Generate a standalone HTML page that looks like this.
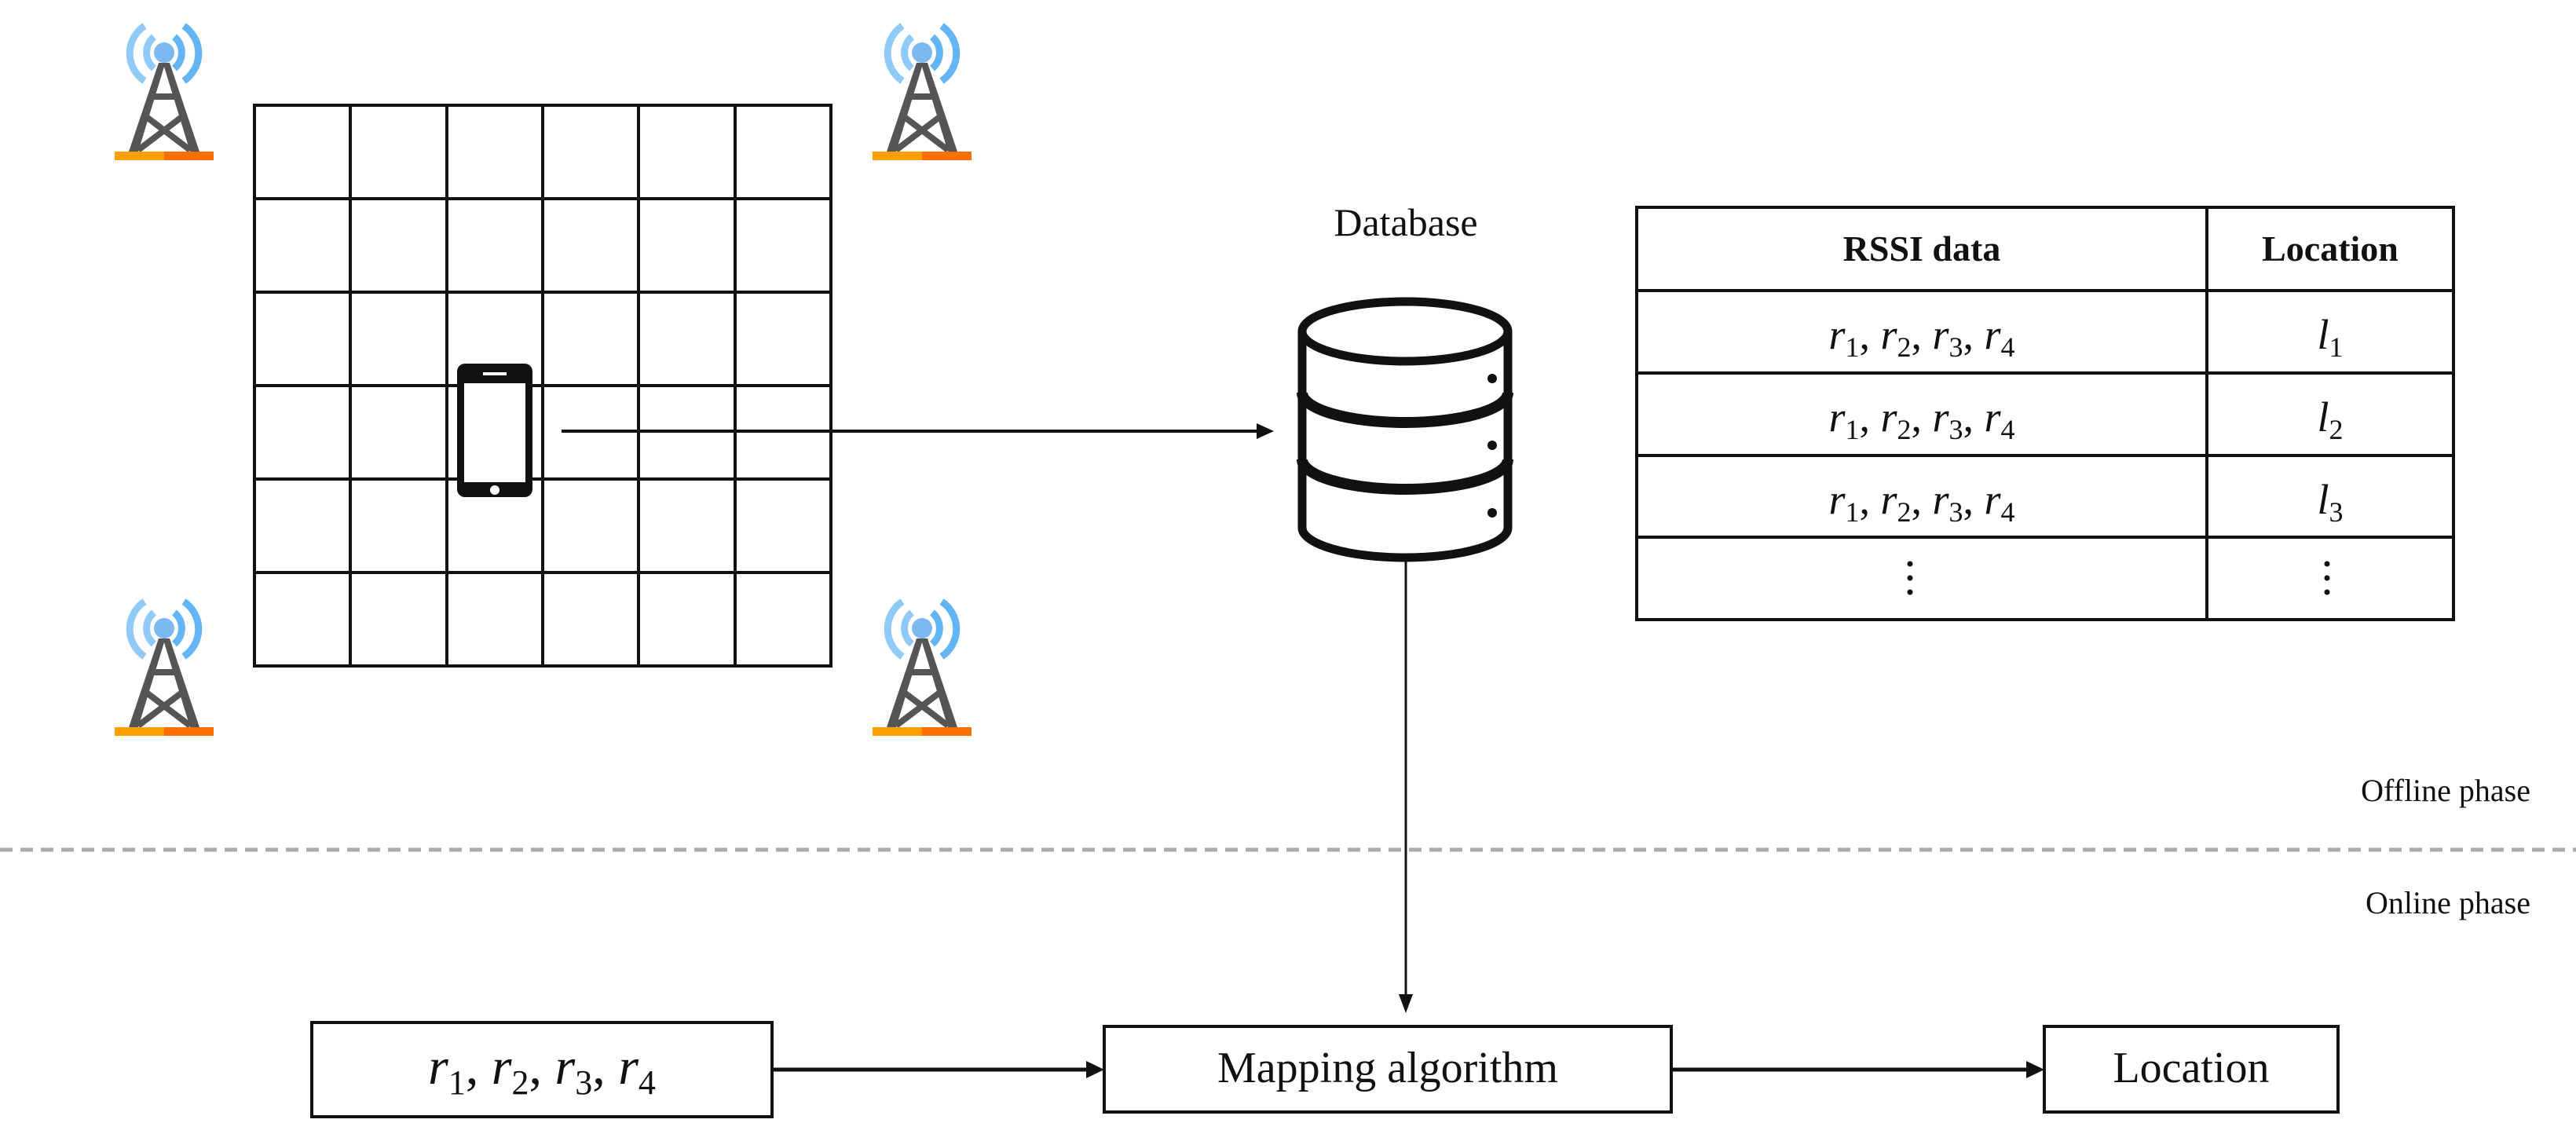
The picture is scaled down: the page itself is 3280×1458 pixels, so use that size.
<!DOCTYPE html>
<html><head><meta charset="utf-8"><style>
html,body{margin:0;padding:0;background:#fff;}
svg{display:block;}
text{font-family:"Liberation Serif",serif;fill:#111;}
.m{font-style:italic;}
</style></head><body>
<svg width="3280" height="1458" viewBox="0 0 3280 1458" xmlns="http://www.w3.org/2000/svg">
<defs>
<g id="tower">
  <path d="M38,8 A42,42 0 0 0 38,78" fill="none" stroke="#90caf9" stroke-width="9"/>
  <path d="M50,22 A26,26 0 0 0 50,62" fill="none" stroke="#90caf9" stroke-width="9"/>
  <path d="M88,8 A42,42 0 0 1 88,78" fill="none" stroke="#64b5f6" stroke-width="9"/>
  <path d="M76,22 A26,26 0 0 1 76,62" fill="none" stroke="#64b5f6" stroke-width="9"/>
  <circle cx="63" cy="42" r="13" fill="#7cb9f0"/>
  <path d="M56,55 L70,55 L108,168 L96,168 L63,60 L30,168 L18,168 Z" fill="#555"/>
  <path d="M46,98 L80,98 M38,122 L96,166 M88,122 L30,166" stroke="#555" stroke-width="8" fill="none"/>
  <rect x="0" y="168" width="63" height="11" fill="#ffa000"/>
  <rect x="63" y="168" width="63" height="11" fill="#ff6f00"/>
</g>
</defs>

<use href="#tower" x="146" y="25"/>
<use href="#tower" x="1111" y="25"/>
<use href="#tower" x="146" y="758"/>
<use href="#tower" x="1111" y="758"/>

<g stroke="#111" stroke-width="4" fill="none">
  <rect x="324" y="134" width="734" height="714"/>
  <path d="M446,134V848 M569,134V848 M691,134V848 M813,134V848 M936,134V848"/>
  <path d="M324,253H1058 M324,372H1058 M324,491H1058 M324,610H1058 M324,729H1058"/>
</g>
<rect x="582" y="463" width="96" height="170" rx="10" fill="#111"/>
<rect x="591" y="488" width="78" height="126" fill="#fff"/>
<rect x="615" y="474" width="30" height="4" fill="#fff"/>
<circle cx="630" cy="624" r="6" fill="#fff"/>

<line x1="715" y1="549" x2="1605" y2="549" stroke="#111" stroke-width="4"/>
<polygon points="1622,549 1600,539 1600,559" fill="#111"/>

<text x="1790" y="300" font-size="50" text-anchor="middle">Database</text>
<g stroke="#111" stroke-width="11" fill="none">
  <ellipse cx="1789" cy="422" rx="131" ry="38"/>
  <path d="M1658,422 V672 A131,38 0 0 0 1920,672 V422"/>
  <path d="M1658,500 A131,38 0 0 0 1920,500" stroke-width="14"/>
  <path d="M1658,585 A131,38 0 0 0 1920,585" stroke-width="14"/>
</g>
<circle cx="1900" cy="482" r="6" fill="#111"/>
<circle cx="1900" cy="567" r="6" fill="#111"/>
<circle cx="1900" cy="653" r="6" fill="#111"/>

<line x1="1790" y1="712" x2="1790" y2="1270" stroke="#111" stroke-width="3"/>
<polygon points="1790,1290 1781,1266 1799,1266" fill="#111"/>

<g stroke="#111" stroke-width="4" fill="none">
  <rect x="2084" y="264" width="1040" height="525"/>
  <path d="M2810,264V789 M2084,370H3124 M2084,475H3124 M2084,580H3124 M2084,684H3124"/>
</g>
<g font-size="46" font-weight="bold" text-anchor="middle">
  <text x="2447" y="332">RSSI data</text>
  <text x="2967" y="332">Location</text>
</g>
<g font-size="54" text-anchor="middle">
  <text x="2447" y="444"><tspan class="m">r</tspan><tspan font-size="36" dy="10">1</tspan><tspan dy="-10">, </tspan><tspan class="m">r</tspan><tspan font-size="36" dy="10">2</tspan><tspan dy="-10">, </tspan><tspan class="m">r</tspan><tspan font-size="36" dy="10">3</tspan><tspan dy="-10">, </tspan><tspan class="m">r</tspan><tspan font-size="36" dy="10">4</tspan></text>
  <text x="2447" y="549"><tspan class="m">r</tspan><tspan font-size="36" dy="10">1</tspan><tspan dy="-10">, </tspan><tspan class="m">r</tspan><tspan font-size="36" dy="10">2</tspan><tspan dy="-10">, </tspan><tspan class="m">r</tspan><tspan font-size="36" dy="10">3</tspan><tspan dy="-10">, </tspan><tspan class="m">r</tspan><tspan font-size="36" dy="10">4</tspan></text>
  <text x="2447" y="654"><tspan class="m">r</tspan><tspan font-size="36" dy="10">1</tspan><tspan dy="-10">, </tspan><tspan class="m">r</tspan><tspan font-size="36" dy="10">2</tspan><tspan dy="-10">, </tspan><tspan class="m">r</tspan><tspan font-size="36" dy="10">3</tspan><tspan dy="-10">, </tspan><tspan class="m">r</tspan><tspan font-size="36" dy="10">4</tspan></text>
  <text x="2967" y="444"><tspan class="m">l</tspan><tspan font-size="36" dy="10">1</tspan></text>
  <text x="2967" y="549"><tspan class="m">l</tspan><tspan font-size="36" dy="10">2</tspan></text>
  <text x="2967" y="654"><tspan class="m">l</tspan><tspan font-size="36" dy="10">3</tspan></text>
</g>
<g fill="#111">
  <circle cx="2432" cy="718" r="3.5"/><circle cx="2432" cy="736" r="3.5"/><circle cx="2432" cy="754" r="3.5"/>
  <circle cx="2963" cy="718" r="3.5"/><circle cx="2963" cy="736" r="3.5"/><circle cx="2963" cy="754" r="3.5"/>
</g>

<text x="3222" y="1020" font-size="40" text-anchor="end">Offline phase</text>
<line x1="0" y1="1082" x2="3280" y2="1082" stroke="#aaa" stroke-width="5" stroke-dasharray="16,10"/>
<text x="3222" y="1163" font-size="40" text-anchor="end">Online phase</text>

<g stroke="#111" stroke-width="4" fill="#fff">
  <rect x="397" y="1302" width="586" height="120"/>
  <rect x="1406" y="1307" width="722" height="109"/>
  <rect x="2603" y="1307" width="374" height="109"/>
</g>
<text x="690" y="1380" font-size="66" text-anchor="middle"><tspan class="m">r</tspan><tspan font-size="44" dy="13">1</tspan><tspan dy="-13">, </tspan><tspan class="m">r</tspan><tspan font-size="44" dy="13">2</tspan><tspan dy="-13">, </tspan><tspan class="m">r</tspan><tspan font-size="44" dy="13">3</tspan><tspan dy="-13">, </tspan><tspan class="m">r</tspan><tspan font-size="44" dy="13">4</tspan></text>
<text x="1767" y="1378" font-size="56" text-anchor="middle">Mapping algorithm</text>
<text x="2790" y="1378" font-size="56" text-anchor="middle">Location</text>

<line x1="983" y1="1362" x2="1385" y2="1362" stroke="#111" stroke-width="5"/>
<polygon points="1406,1362 1383,1351 1383,1373" fill="#111"/>
<line x1="2128" y1="1362" x2="2582" y2="1362" stroke="#111" stroke-width="5"/>
<polygon points="2603,1362 2580,1351 2580,1373" fill="#111"/>
</svg>
</body></html>
